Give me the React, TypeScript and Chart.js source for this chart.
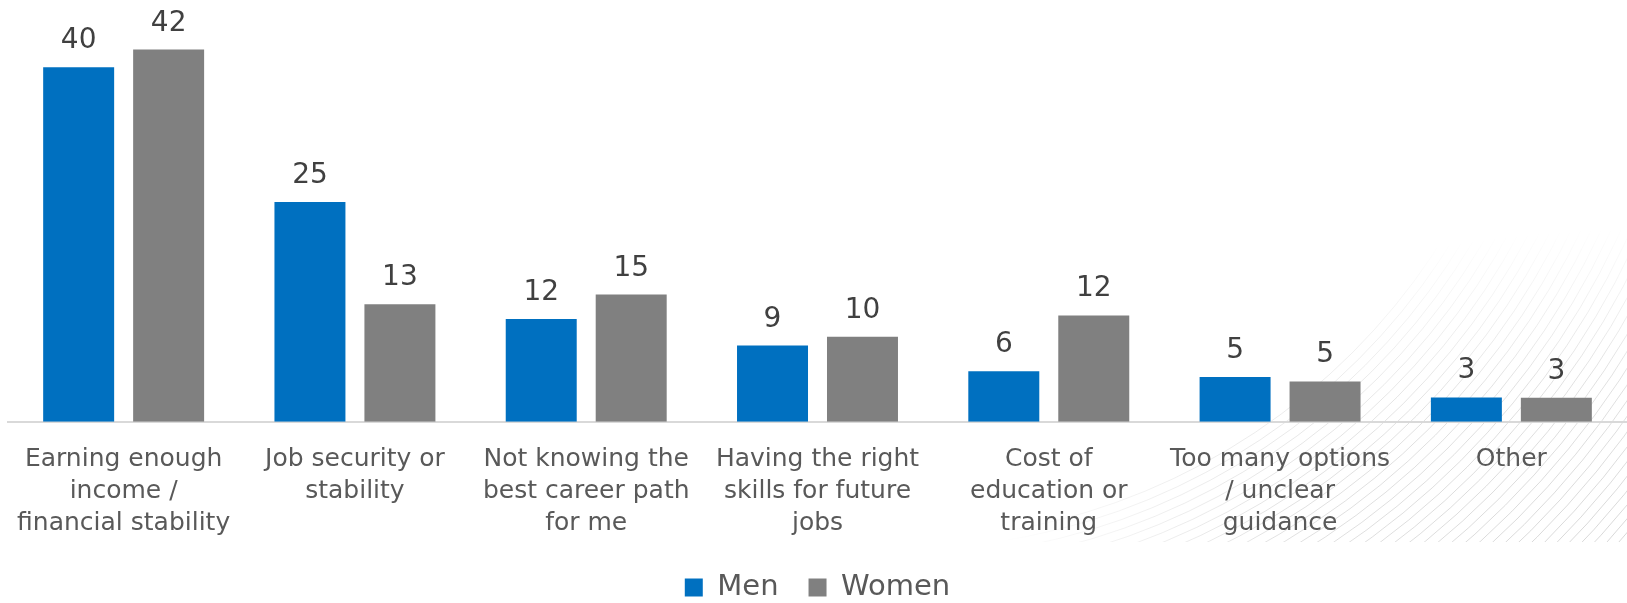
import React, { useEffect, useRef } from "react";
import { Chart, registerables } from "chart.js";

Chart.register(...registerables);

const categories: string[][] = [
  ["Earning enough", "income /", "financial stability"],
  ["Job security or", "stability"],
  ["Not knowing the", "best career path", "for me"],
  ["Having the right", "skills for future", "jobs"],
  ["Cost of", "education or", "training"],
  ["Too many options", "/ unclear", "guidance"],
  ["Other"],
];

const menValues = [40, 24.8, 11.6, 8.6, 5.7, 5.05, 2.75];
const womenValues = [42, 13.25, 14.35, 9.6, 12.0, 4.55, 2.7];

const menLabels = ["40", "25", "12", "9", "6", "5", "3"];
const womenLabels = ["42", "13", "15", "10", "12", "5", "3"];

const seriesNames = ["Men", "Women"];
const seriesColors = ["#0070C0", "#808080"];

const FONT = "'DejaVu Sans', sans-serif";

const bgLinesPlugin = {
  id: "bgLines",
  beforeDraw(chart: any) {
    const ctx = chart.ctx as CanvasRenderingContext2D;
    const W = chart.width;
    const H = chart.height;
    const off = document.createElement("canvas");
    off.width = W;
    off.height = H;
    const o = off.getContext("2d");
    if (!o) return;
    o.beginPath();
    o.rect(0, 0, W, 542);
    o.clip();
    o.strokeStyle = "rgba(0,0,0,0.16)";
    o.lineWidth = 1;
    const cx = 900;
    const cy = -100;
    for (let r = 640; r <= 1010; r += 9) {
      o.beginPath();
      o.arc(cx, cy, r, 0, Math.PI / 2);
      o.stroke();
    }
    o.globalCompositeOperation = "destination-in";
    o.save();
    o.translate(1640, 560);
    o.scale(1, 0.52);
    const g = o.createRadialGradient(0, 0, 0, 0, 0, 640);
    g.addColorStop(0, "rgba(0,0,0,1)");
    g.addColorStop(0.55, "rgba(0,0,0,0.75)");
    g.addColorStop(1, "rgba(0,0,0,0)");
    o.fillStyle = g;
    o.fillRect(-2000, -2000, 4000, 4000);
    o.restore();
    ctx.save();
    ctx.drawImage(off, 0, 0);
    ctx.restore();
  },
};

const valueLabelPlugin = {
  id: "valueLabels",
  afterDatasetsDraw(chart: any) {
    const ctx = chart.ctx as CanvasRenderingContext2D;
    const labelSets = [menLabels, womenLabels];
    ctx.save();
    ctx.font = `28px ${FONT}`;
    ctx.fillStyle = "#404040";
    ctx.textAlign = "center";
    ctx.textBaseline = "alphabetic";
    chart.data.datasets.forEach((_: any, di: number) => {
      const meta = chart.getDatasetMeta(di);
      meta.data.forEach((el: any, i: number) => {
        ctx.fillText(labelSets[di][i], el.x, el.y - 19);
      });
    });
    ctx.restore();
  },
};

export default function App() {
  const ref = useRef<HTMLCanvasElement | null>(null);

  useEffect(() => {
    if (!ref.current) return;
    const chart = new Chart(ref.current, {
      type: "bar",
      data: {
        labels: categories,
        datasets: [
          {
            label: seriesNames[0],
            data: menValues,
            backgroundColor: seriesColors[0],
            categoryPercentage: 0.778,
            barPercentage: 0.789,
          },
          {
            label: seriesNames[1],
            data: womenValues,
            backgroundColor: seriesColors[1],
            categoryPercentage: 0.778,
            barPercentage: 0.789,
          },
        ],
      },
      options: {
        animation: false,
        responsive: true,
        maintainAspectRatio: false,
        layout: { padding: { left: 8, right: 0, top: 0, bottom: 0 } },
        plugins: {
          legend: {
            display: true,
            position: "bottom",
            labels: {
              boxWidth: 18,
              boxHeight: 18,
              padding: 30,
              color: "#595959",
              font: { family: FONT, size: 29 },
            },
          },
          tooltip: { enabled: false },
        },
        scales: {
          x: {
            grid: {
              display: true,
              drawOnChartArea: false,
              drawTicks: true,
              tickLength: 22,
              tickColor: "rgba(0,0,0,0)",
            },
            border: { display: true, color: "#D9D9D9", width: 2 },
            ticks: {
              color: "#595959",
              padding: 0,
              maxRotation: 0,
              autoSkip: false,
              font: { family: FONT, size: 25, lineHeight: 1.27 },
            },
            afterFit: (scale: any) => {
              scale.height += 4;
            },
          },
          y: {
            display: false,
            min: 0,
            max: 47.6,
          },
        },
      },
      plugins: [bgLinesPlugin, valueLabelPlugin],
    });
    return () => chart.destroy();
  }, []);

  return (
    <div style={{ position: "fixed", left: 0, top: 0, width: 1627, height: 612 }}>
      <canvas ref={ref} />
    </div>
  );
}
